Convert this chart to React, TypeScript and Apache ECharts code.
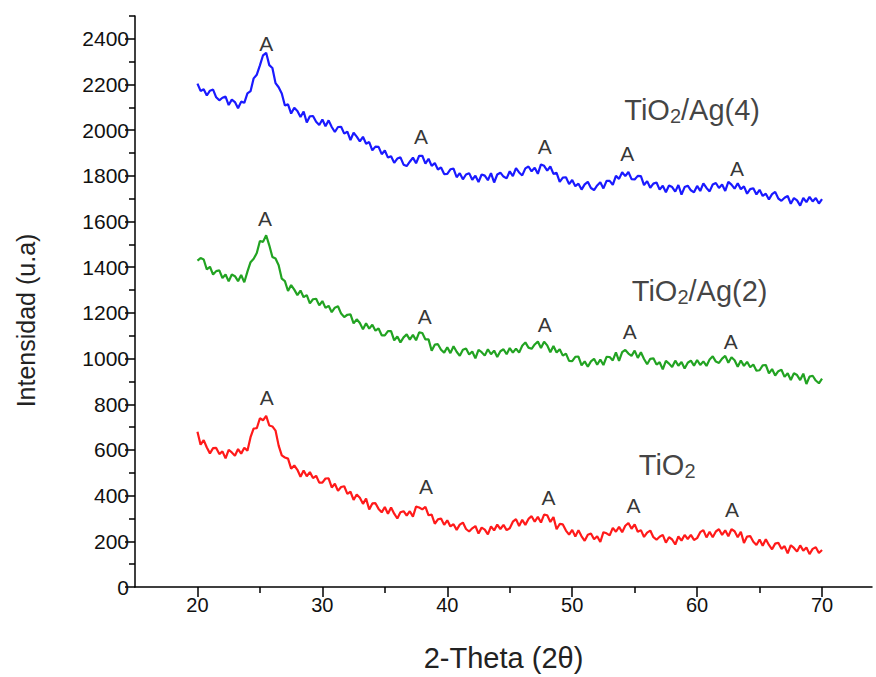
import React, { useEffect, useRef } from 'react';
import * as echarts from 'echarts';

// 2θ sampling grid: 20° to 70°, step 0.25°
const twoThetaStart = 20;
const twoThetaStep = 0.25;

const tio2Ag4 = [
  2204, 2172, 2179, 2152, 2173, 2178, 2144, 2131, 2142, 2147, 2110, 2134, 2123, 2096, 2125, 2120, 2161, 2171, 2227, 2243,
  2284, 2328, 2339, 2285, 2272, 2206, 2188, 2161, 2108, 2113, 2073, 2098, 2084, 2058, 2082, 2034, 2061, 2062, 2037, 2023,
  2047, 2017, 2043, 2014, 1992, 2014, 2015, 1985, 1994, 1957, 1989, 1972, 1951, 1971, 1941, 1948, 1912, 1928, 1927, 1895,
  1911, 1880, 1886, 1857, 1876, 1881, 1849, 1843, 1862, 1880, 1855, 1888, 1888, 1854, 1875, 1844, 1856, 1828, 1837, 1808,
  1809, 1829, 1832, 1794, 1812, 1785, 1806, 1812, 1783, 1801, 1773, 1806, 1801, 1781, 1812, 1771, 1806, 1814, 1797, 1789,
  1820, 1799, 1834, 1815, 1802, 1833, 1841, 1820, 1836, 1809, 1850, 1844, 1823, 1841, 1809, 1813, 1774, 1792, 1794, 1764,
  1782, 1755, 1766, 1740, 1763, 1774, 1747, 1738, 1758, 1772, 1745, 1778, 1778, 1761, 1800, 1787, 1816, 1799, 1817, 1786,
  1784, 1800, 1799, 1760, 1777, 1748, 1766, 1771, 1740, 1757, 1728, 1758, 1751, 1731, 1760, 1718, 1751, 1757, 1737, 1728,
  1756, 1734, 1767, 1747, 1732, 1762, 1769, 1747, 1762, 1734, 1774, 1762, 1744, 1768, 1742, 1754, 1722, 1742, 1746, 1719,
  1739, 1712, 1722, 1697, 1720, 1730, 1701, 1691, 1704, 1712, 1678, 1703, 1693, 1670, 1703, 1685, 1708, 1688, 1703, 1679,
  1698,
];

const tio2Ag2 = [
  1429, 1440, 1434, 1390, 1402, 1368, 1383, 1386, 1353, 1368, 1338, 1368, 1361, 1339, 1366, 1334, 1381, 1422, 1437, 1462,
  1515, 1511, 1540, 1496, 1445, 1438, 1409, 1350, 1339, 1296, 1322, 1302, 1278, 1298, 1269, 1278, 1242, 1260, 1262, 1233,
  1252, 1222, 1231, 1203, 1223, 1229, 1197, 1182, 1192, 1194, 1154, 1172, 1156, 1128, 1155, 1131, 1148, 1122, 1132, 1102,
  1102, 1120, 1120, 1080, 1097, 1071, 1093, 1106, 1083, 1104, 1080, 1115, 1112, 1084, 1084, 1034, 1061, 1063, 1039, 1026,
  1050, 1024, 1054, 1030, 1012, 1039, 1044, 1018, 1031, 1001, 1038, 1028, 1013, 1041, 1019, 1035, 1007, 1032, 1041, 1019,
  1046, 1026, 1044, 1026, 1056, 1071, 1048, 1043, 1062, 1075, 1046, 1074, 1058, 1028, 1055, 1027, 1041, 1013, 1022, 990,
  989, 1008, 1009, 970, 988, 964, 988, 999, 973, 996, 972, 1008, 1007, 992, 1027, 990, 1028, 1038, 1022, 1012,
  1035, 1003, 1028, 998, 975, 999, 1001, 974, 984, 953, 990, 978, 963, 991, 969, 985, 957, 982, 991, 969,
  994, 972, 988, 968, 996, 1010, 987, 981, 1000, 1012, 982, 1006, 993, 964, 992, 968, 986, 962, 974, 947,
  949, 970, 972, 935, 954, 926, 945, 951, 920, 936, 906, 936, 928, 906, 934, 889, 921, 925, 904, 892,
  912,
];

const tio2 = [
  680, 623, 643, 611, 585, 608, 609, 582, 594, 563, 600, 589, 575, 604, 584, 610, 597, 656, 694, 695,
  739, 730, 749, 707, 703, 685, 619, 576, 567, 562, 518, 532, 513, 483, 510, 485, 503, 477, 487, 457,
  457, 475, 476, 436, 452, 421, 438, 441, 408, 417, 381, 405, 391, 364, 387, 339, 366, 367, 342, 327,
  350, 321, 348, 321, 300, 327, 332, 313, 332, 308, 352, 348, 340, 351, 314, 317, 277, 296, 300, 272,
  292, 265, 275, 250, 273, 282, 254, 243, 257, 267, 234, 260, 251, 230, 265, 248, 273, 254, 272, 249,
  257, 286, 297, 267, 294, 272, 298, 310, 286, 307, 282, 317, 314, 285, 306, 253, 276, 274, 247, 229,
  250, 221, 249, 222, 202, 229, 234, 209, 222, 197, 240, 235, 226, 259, 242, 263, 240, 268, 280, 255,
  274, 242, 249, 219, 238, 247, 218, 207, 220, 228, 194, 218, 208, 186, 221, 203, 228, 210, 228, 206,
  214, 240, 249, 217, 242, 218, 243, 253, 228, 248, 222, 253, 244, 218, 242, 193, 221, 223, 198, 184,
  208, 181, 209, 184, 165, 190, 194, 167, 179, 147, 183, 171, 155, 182, 159, 173, 144, 167, 174, 149,
  162,
];

// anatase peak markers "A" [2θ, intensity]
const peaksAg4 = [[25.5, 2378], [37.9, 1974], [47.8, 1927], [54.4, 1898], [63.2, 1833]];
const peaksAg2 = [[25.4, 1614], [38.2, 1185], [47.8, 1148], [54.6, 1119], [62.7, 1076]];
const peaksTiO2 = [[25.55, 828], [38.3, 442], [48.1, 392], [54.9, 355], [62.8, 341]];

// series name labels [2θ, intensity]
const nameAg4Pos = [59.6, 2087];
const nameAg2Pos = [60.2, 1297];
const nameTiO2Pos = [57.6, 533];

const xTickLabels = [20, 30, 40, 50, 60, 70];
const xMinorTicks = [25, 35, 45, 55, 65];
const yTickLabels = [0, 200, 400, 600, 800, 1000, 1200, 1400, 1600, 1800, 2000, 2200, 2400];
const yMinorTicks = [100, 300, 500, 700, 900, 1100, 1300, 1500, 1700, 1900, 2100, 2300, 2500];

const FONT = 'Liberation Sans, Arial, sans-serif';

function toPairs(values: number[]) {
  return values.map((v, i) => [twoThetaStart + i * twoThetaStep, v]);
}

function peakSeries(data: number[][]) {
  return {
    type: 'scatter',
    silent: true,
    symbolSize: 1,
    itemStyle: { color: 'rgba(0,0,0,0)' },
    data,
    label: {
      show: true,
      position: 'inside',
      formatter: 'A',
      color: '#000',
      fontFamily: FONT,
      fontSize: 21,
    },
    z: 5,
  };
}

function nameSeries(pos: number[], suffix: string) {
  return {
    type: 'scatter',
    silent: true,
    symbolSize: 1,
    itemStyle: { color: 'rgba(0,0,0,0)' },
    data: [pos],
    label: {
      show: true,
      position: 'inside',
      formatter: '{a|TiO}{s|2}{a|' + suffix + '}',
      rich: {
        a: { fontFamily: FONT, fontSize: 29, color: '#111', lineHeight: 32, verticalAlign: 'middle' },
        s: { fontFamily: FONT, fontSize: 20, color: '#111', lineHeight: 20, verticalAlign: 'bottom' },
      },
    },
    z: 5,
  };
}

export default function App() {
  const ref = useRef<HTMLDivElement>(null);
  useEffect(() => {
    if (!ref.current) return;
    const chart = echarts.init(ref.current, null, { renderer: 'svg' });
    const axisLine = { show: true, lineStyle: { color: '#000', width: 1.5 } };
    chart.setOption({
      animation: false,
      backgroundColor: '#fff',
      grid: { left: 135, right: 4, top: 16, bottom: 89 },
      xAxis: [
        {
          type: 'value',
          min: 15,
          max: 74,
          axisLine: { ...axisLine, onZero: false },
          splitLine: { show: false },
          axisTick: { show: true, length: 10, customValues: xTickLabels, lineStyle: { color: '#000', width: 1.5 } },
          axisLabel: {
            customValues: xTickLabels,
            formatter: (v: number) => String(v),
            color: '#111',
            fontFamily: FONT,
            fontSize: 20,
            margin: 8,
          },
          name: '2-Theta (2θ)',
          nameLocation: 'middle',
          nameGap: 56,
          nameTextStyle: { fontFamily: FONT, fontSize: 29, color: '#222' },
        },
        {
          type: 'value',
          min: 15,
          max: 74,
          position: 'bottom',
          axisLine: { show: false, onZero: false },
          splitLine: { show: false },
          axisTick: { show: true, length: 6, customValues: xMinorTicks, lineStyle: { color: '#000', width: 1.5 } },
          axisLabel: { show: false },
        },
      ],
      yAxis: [
        {
          type: 'value',
          min: 0,
          max: 2500,
          axisLine: { ...axisLine, onZero: false },
          splitLine: { show: false },
          axisTick: { show: true, length: 10, customValues: yTickLabels, lineStyle: { color: '#000', width: 1.5 } },
          axisLabel: {
            customValues: yTickLabels,
            formatter: (v: number) => String(v),
            color: '#111',
            fontFamily: FONT,
            fontSize: 21,
            margin: 6,
          },
          name: 'Intensidad (u.a)',
          nameLocation: 'middle',
          nameGap: 97,
          nameTextStyle: { fontFamily: FONT, fontSize: 25, color: '#222', padding: [0, 38, 0, 0] },
        },
        {
          type: 'value',
          min: 0,
          max: 2500,
          position: 'left',
          axisLine: { show: false, onZero: false },
          splitLine: { show: false },
          axisTick: { show: true, length: 6, customValues: yMinorTicks, lineStyle: { color: '#000', width: 1.5 } },
          axisLabel: { show: false },
        },
      ],
      series: [
        {
          name: 'TiO2/Ag(4)',
          type: 'line',
          data: toPairs(tio2Ag4),
          showSymbol: false,
          lineStyle: { color: '#1a1aff', width: 2.2 },
          itemStyle: { color: '#1a1aff' },
        },
        {
          name: 'TiO2/Ag(2)',
          type: 'line',
          data: toPairs(tio2Ag2),
          showSymbol: false,
          lineStyle: { color: '#22a322', width: 2.2 },
          itemStyle: { color: '#22a322' },
        },
        {
          name: 'TiO2',
          type: 'line',
          data: toPairs(tio2),
          showSymbol: false,
          lineStyle: { color: '#ff1a1a', width: 2.2 },
          itemStyle: { color: '#ff1a1a' },
        },
        peakSeries(peaksAg4),
        peakSeries(peaksAg2),
        peakSeries(peaksTiO2),
        nameSeries(nameAg4Pos, '/Ag(4)'),
        nameSeries(nameAg2Pos, '/Ag(2)'),
        nameSeries(nameTiO2Pos, ''),
      ],
    });
    return () => chart.dispose();
  }, []);
  return (
    <div
      ref={ref}
      style={{ position: 'fixed', left: 0, top: 0, width: 876, height: 677, background: '#fff' }}
    />
  );
}
